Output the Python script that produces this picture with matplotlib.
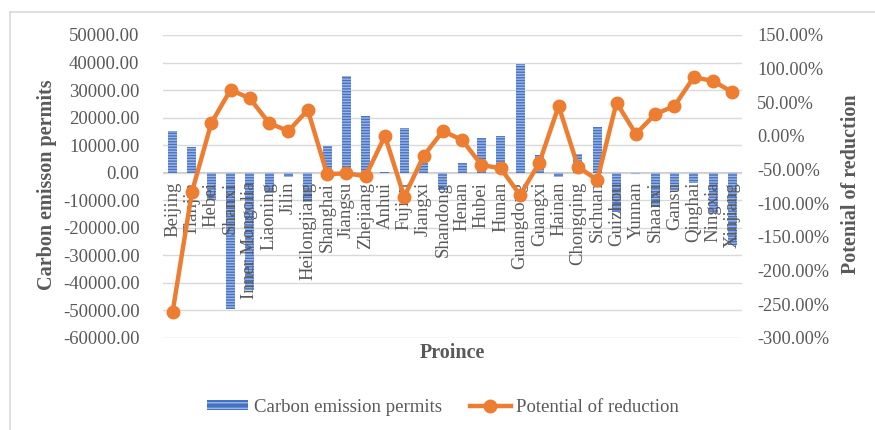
import matplotlib
matplotlib.use("Agg")
import matplotlib.pyplot as plt
from matplotlib.ticker import FuncFormatter
from matplotlib.lines import Line2D
from matplotlib.patches import Patch
import numpy as np

provinces = ["Beijing", "Tianjin", "Hebei", "Shanxi", "Inner Mongolia", "Liaoning",
             "Jilin", "Heilongjiang", "Shanghai", "Jiangsu", "Zhejiang", "Anhui",
             "Fujian", "Jiangxi", "Shandong", "Henan", "Hubei", "Hunan", "Guangdong",
             "Guangxi", "Hainan", "Chongqing", "Sichuan", "Guizhou", "Yunnan",
             "Shaanxi", "Gansu", "Qinghai", "Ningxia", "Xinjiang"]

permits = [15300, 9500, -10000, -49300, -42700, -7300,
           -1400, -10500, 9700, 35200, 20700, 200,
           16100, 3500, -6200, 3500, 12500, 13300, 39500,
           6400, -1400, 6800, 16500, -14200, -500,
           -12400, -6300, -3900, -14800, -26300]

reduction = [-2.61, -0.83, 0.19, 0.685, 0.56, 0.19,
             0.074, 0.387, -0.565, -0.556, -0.595, 0.0,
             -0.903, -0.298, 0.074, -0.06, -0.43, -0.48, -0.878,
             -0.397, 0.446, -0.456, -0.655, 0.496, 0.03,
             0.323, 0.446, 0.873, 0.818, 0.65]

left_ticks = np.arange(-60000, 50001, 10000)
right_ticks = np.arange(-3.0, 1.51, 0.5)

GRAY = "#595959"
BLUE = "#4472C4"
ORANGE = "#ED7D31"
SERIF = ["Liberation Serif", "DejaVu Serif"]

plt.rcParams["font.family"] = SERIF
plt.rcParams["hatch.linewidth"] = 1.0

fig = plt.figure(figsize=(8.75, 4.3), dpi=100)
W, H = 875, 430

# chart-area frame (top and left edges)
fig.add_artist(Line2D([10 / W, 1.0], [1 - 12 / H, 1 - 12 / H], color="#D9D9D9", lw=1.2))
fig.add_artist(Line2D([10 / W, 10 / W], [0.0, 1 - 12 / H], color="#D9D9D9", lw=1.2))

ax = fig.add_axes([163 / W, 1 - 338 / H, (742 - 163) / W, (338 - 35) / H])
x = np.arange(len(provinces))

ax.bar(x, permits, width=0.47, color=BLUE, edgecolor="#9DB5E3", linewidth=0,
       hatch="------", zorder=2)
ax.set_ylim(-60000, 50000)
ax.set_xlim(-0.5, len(provinces) - 0.5)
ax.set_yticks(left_ticks)
ax.yaxis.set_major_formatter(FuncFormatter(lambda v, p: f"{v:.2f}"))
ax.grid(axis="y", color="#D9D9D9", lw=1.0, zorder=0)
ax.axhline(0, color="#BFBFBF", lw=1.2, zorder=1)
for s in ax.spines.values():
    s.set_visible(False)
ax.tick_params(axis="y", length=0, labelsize=13.5, labelcolor=GRAY, pad=17)
ax.set_xticks([])

# category labels sit just under the zero line
for xi, name in zip(x, provinces):
    ax.text(xi, -3300, name, rotation=90, ha="center", va="top",
            fontsize=13.5, color=GRAY, zorder=3)

fig.text(47 / W, 1 - 185 / H, "Carbon emisson permits", rotation=90,
         ha="center", va="center", fontsize=14.5, fontweight="bold", color=GRAY)
fig.text(452 / W, 1 - 353 / H, "Proince", ha="center", va="center",
         fontsize=14.5, fontweight="bold", color=GRAY)
fig.text(851 / W, 1 - 184 / H, "Potenial of reduction", rotation=90,
         ha="center", va="center", fontsize=14.5, fontweight="bold", color=GRAY)

ax2 = ax.twinx()
ax2.plot(x, reduction, color=ORANGE, lw=3.2, marker="o", markersize=9, zorder=4)
ax2.set_ylim(-3.0, 1.5)
ax2.set_yticks(right_ticks)
ax2.yaxis.set_major_formatter(FuncFormatter(lambda v, p: f"{v * 100:.2f}%"))
for s in ax2.spines.values():
    s.set_visible(False)
ax2.tick_params(axis="y", length=0, labelsize=13.2, labelcolor=GRAY, pad=11)

handles = [Patch(facecolor=BLUE, edgecolor="#9DB5E3", hatch="---", linewidth=0),
           Line2D([0], [0], color=ORANGE, lw=3.2, marker="o", markersize=9)]
fig.legend(handles, ["Carbon emission permits", "Potential of reduction"],
           loc="center", bbox_to_anchor=(443 / W, 1 - 407 / H), ncol=2,
           frameon=False, fontsize=13.5, labelcolor=GRAY, handlelength=2.2,
           handleheight=0.5, columnspacing=1.5, handletextpad=0.3)

fig.savefig("out.png", dpi=100)
